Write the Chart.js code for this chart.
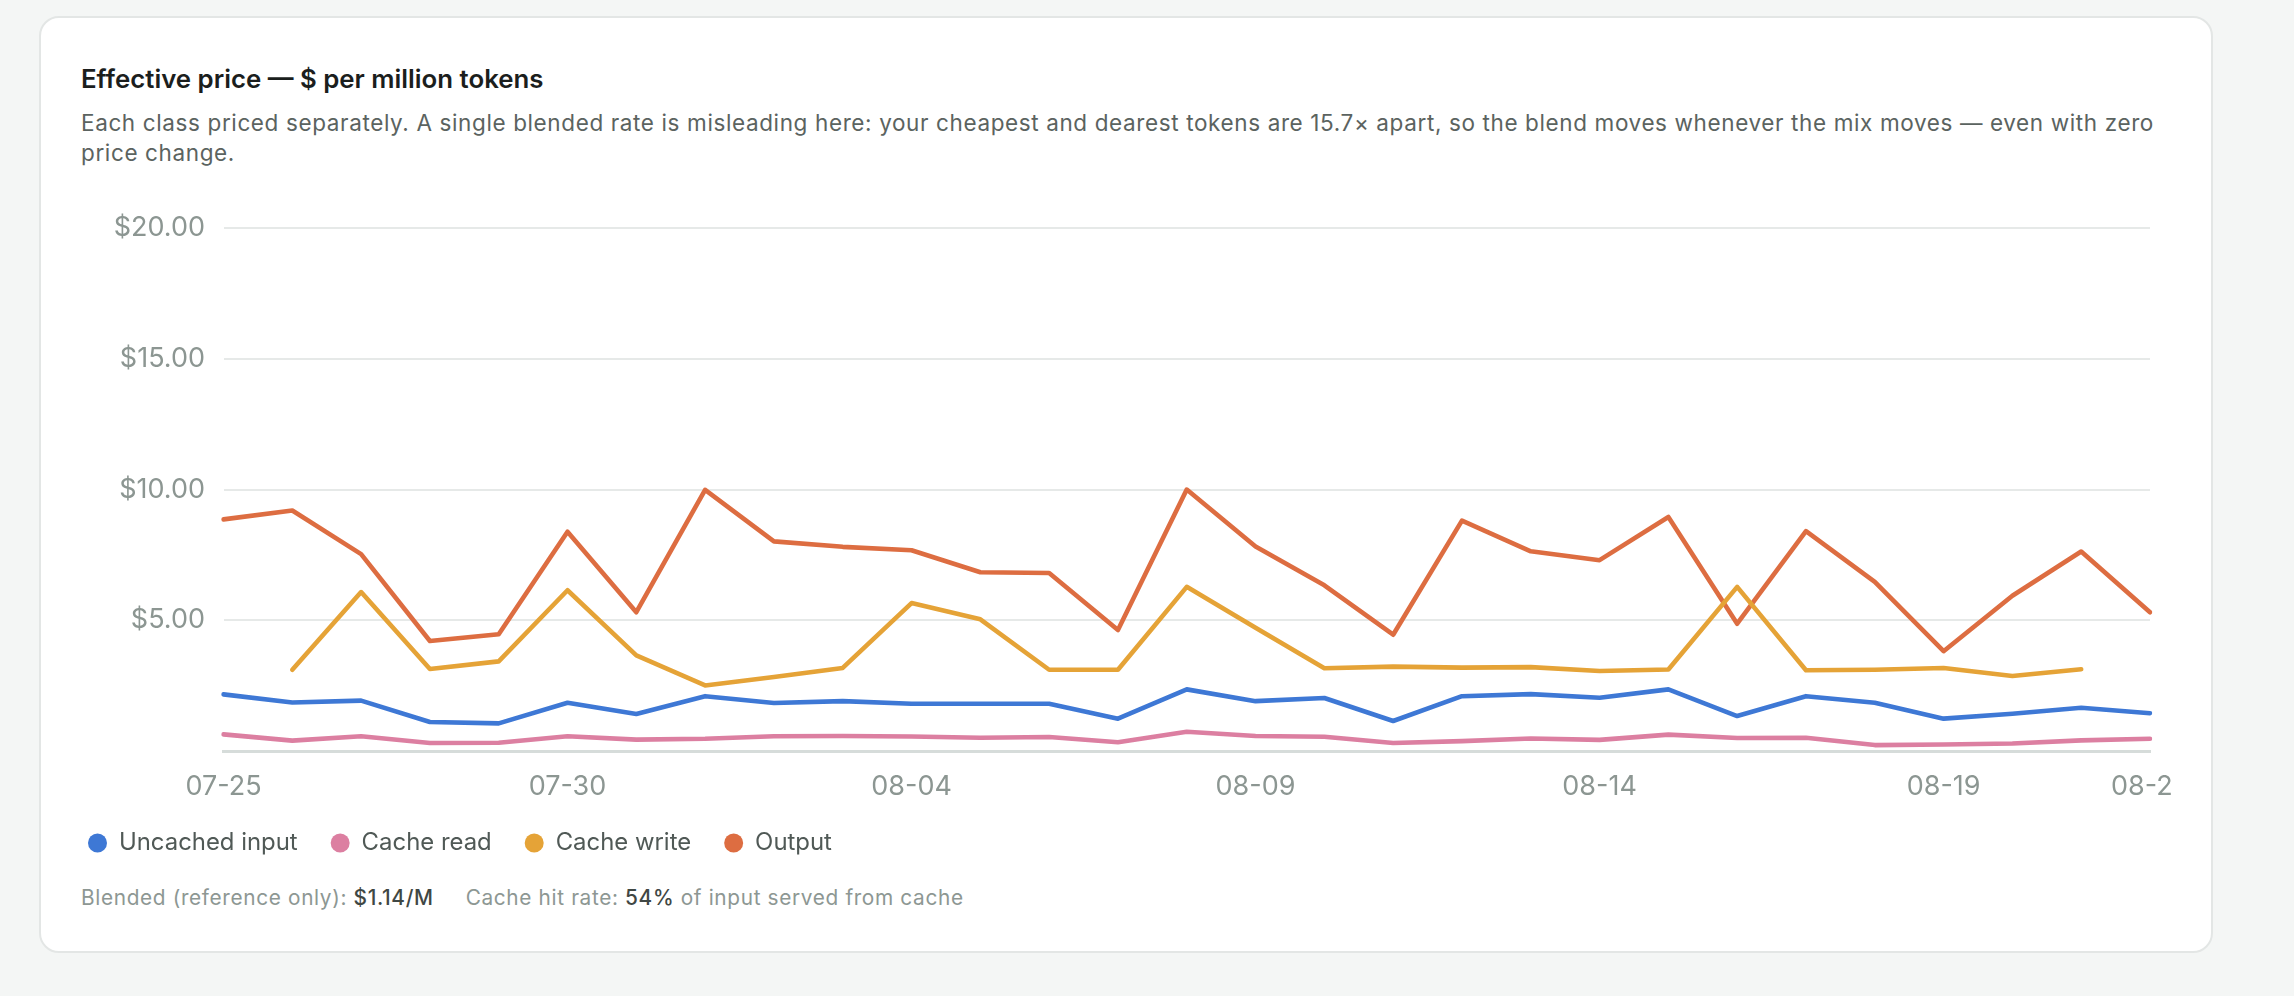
<!DOCTYPE html>
<html>
<head>
<meta charset="utf-8">
<script src="https://cdn.jsdelivr.net/npm/chart.js@4.4.1/dist/chart.umd.min.js"></script>
<style>
  html, body { margin: 0; padding: 0; width: 2294px; height: 996px; overflow: hidden; background: #f4f6f5; font-family: Inter, "Noto Sans", sans-serif; }
  .card { position: absolute; left: 39px; top: 16px; width: 2174px; height: 937px; box-sizing: border-box; background: #fff; border: 2px solid #e3e6e5; border-radius: 20px; }
  .title { position: absolute; left: 81px; top: 64px; font-size: 25.8px; font-weight: 600; line-height: 30px; color: #1b1e1d; white-space: nowrap; }
  .sub { position: absolute; left: 81px; top: 108px; font-size: 22.5px; letter-spacing: 0.62px; line-height: 30px; color: #5b6360; white-space: nowrap; }
  .wrap { position: absolute; left: 55px; top: 200px; width: 2117px; height: 681px; }
  .foot { position: absolute; left: 81px; top: 886px; font-size: 20.8px; letter-spacing: 0.65px; line-height: 24px; color: #8d9793; white-space: nowrap; }
  .foot b { font-weight: 500; color: #3f4744; }
  .foot .gap { display: inline-block; width: 32px; }
</style>
</head>
<body>
<div class="card"></div>
<div class="title">Effective price — $ per million tokens</div>
<div class="sub">Each class priced separately. A single blended rate is misleading here: your cheapest and dearest tokens are 15.7× apart, so the blend moves whenever the mix moves — even with zero<br>price change.</div>
<div class="wrap"><canvas id="c"></canvas></div>
<div class="foot">Blended (reference only): <b>$1.14/M</b><span class="gap"></span>Cache hit rate: <b>54%</b> of input served from cache</div>
<script>
const dates = ['07-25','07-26','07-27','07-28','07-29','07-30','07-31','08-01','08-02','08-03','08-04','08-05','08-06','08-07','08-08','08-09','08-10','08-11','08-12','08-13','08-14','08-15','08-16','08-17','08-18','08-19','08-20','08-21','08-22'];
const uncachedInput = [2.17,1.86,1.93,1.11,1.06,1.85,1.42,2.10,1.84,1.91,1.81,1.81,1.81,1.24,2.36,1.91,2.03,1.15,2.10,2.18,2.04,2.36,1.34,2.10,1.85,1.24,1.43,1.66,1.45];
const cacheRead = [0.64,0.40,0.57,0.31,0.32,0.57,0.44,0.47,0.57,0.58,0.56,0.51,0.54,0.34,0.74,0.58,0.55,0.31,0.38,0.48,0.43,0.63,0.50,0.51,0.23,0.25,0.29,0.41,0.47];
const cacheWrite = [null,3.11,6.08,3.14,3.43,6.15,3.66,2.51,2.83,3.18,5.66,5.04,3.11,3.11,6.28,4.72,3.17,3.23,3.19,3.21,3.06,3.12,6.28,3.09,3.11,3.18,2.87,3.13,null];
const output = [8.86,9.20,7.53,4.21,4.47,8.39,5.31,9.99,8.02,7.81,7.68,6.84,6.81,4.63,10.0,7.82,6.34,4.45,8.81,7.64,7.30,8.95,4.87,8.41,6.47,3.82,5.94,7.63,5.31];
const yTicks = [0, 5, 10, 15, 20];

const seriesNames = ['Uncached input', 'Cache read', 'Cache write', 'Output'];
const seriesColors = ['#3e78d5', '#dc7fa1', '#e5a337', '#dd6d41'];
const seriesData = [uncachedInput, cacheRead, cacheWrite, output];

const datasets = seriesNames.map((name, i) => ({
  label: name,
  data: seriesData[i],
  borderColor: seriesColors[i],
  backgroundColor: seriesColors[i],
  borderWidth: 4.6,
  pointRadius: 0,
  pointHoverRadius: 0,
  tension: 0,
  borderCapStyle: 'round',
  borderJoinStyle: 'round',
  fill: false
}));

const tickColor = '#8c9692';

new Chart(document.getElementById('c'), {
  type: 'line',
  data: { labels: dates, datasets },
  options: {
    responsive: true,
    maintainAspectRatio: false,
    animation: false,
    layout: { padding: { top: 28, right: 22, bottom: 16, left: 0 } },
    plugins: {
      tooltip: { enabled: false },
      legend: {
        position: 'bottom',
        align: 'start',
        labels: {
          usePointStyle: true,
          pointStyle: 'circle',
          boxHeight: 13.4,
          pointStyleWidth: 19,
          padding: 33,
          color: '#505956',
          font: { family: 'Inter', size: 23.9 },
          generateLabels(chart) {
            const items = Chart.defaults.plugins.legend.labels.generateLabels(chart);
            items.forEach(it => { it.lineWidth = 0; it.strokeStyle = it.fillStyle; });
            return items;
          }
        }
      }
    },
    scales: {
      x: {
        grid: { display: false, drawTicks: false },
        border: { display: true, color: '#d6dcda', width: 3 },
        ticks: {
          autoSkip: false,
          maxRotation: 0,
          padding: 19.5,
          color: tickColor,
          font: { family: 'Inter', size: 27 },
          callback(value, index) {
            return (index % 5 === 0 || index === dates.length - 1) ? dates[index] : '';
          }
        },
        afterFit(scale) { scale.paddingRight = 0; scale.height = 47; }
      },
      y: {
        min: 0,
        max: 20,
        afterBuildTicks(scale) { scale.ticks = yTicks.map(v => ({ value: v })); },
        grid: { color: '#e6e9e8', lineWidth: 2, drawTicks: false },
        border: { display: false },
        ticks: {
          padding: 18.5,
          color: tickColor,
          font: { family: 'Inter', size: 27 },
          callback(value) { return value === 0 ? '' : '$' + value.toFixed(2); }
        },
        afterFit(scale) { scale.width = 168.5; scale.paddingTop = 0; scale.paddingBottom = 0; }
      }
    }
  }
});
</script>
</body>
</html>
